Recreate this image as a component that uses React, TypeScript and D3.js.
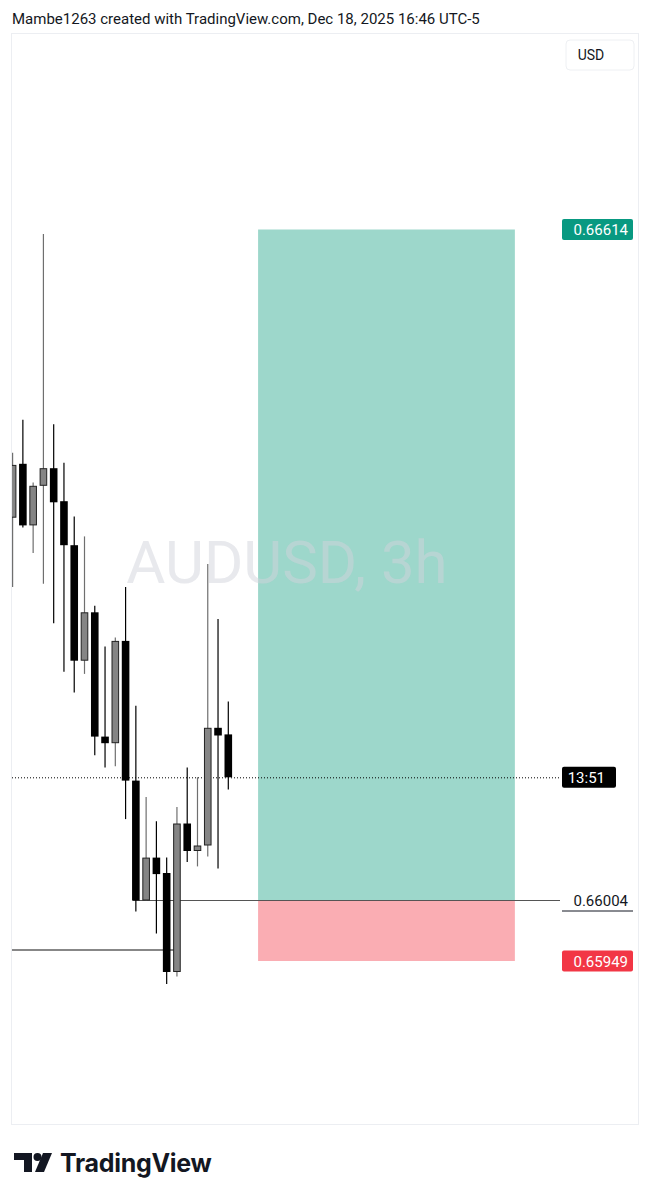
import React from "react";
import * as d3 from "d3";

const opens = [0.66352, 0.66401, 0.66345, 0.66381, 0.66397, 0.66367, 0.66327, 0.66222, 0.66266, 0.66153, 0.66147, 0.6624, 0.66113, 0.66004, 0.66043, 0.66029, 0.65939, 0.66074, 0.66049, 0.66054, 0.66161, 0.66155];
const highs = [0.66411, 0.66441, 0.66384, 0.6661, 0.66437, 0.66402, 0.66353, 0.66335, 0.66272, 0.66235, 0.66243, 0.66289, 0.66181, 0.66098, 0.66076, 0.66043, 0.66089, 0.66125, 0.66116, 0.6631, 0.6626, 0.66185];
const lows = [0.66289, 0.66343, 0.6632, 0.66292, 0.66256, 0.66212, 0.66193, 0.6621, 0.66136, 0.66125, 0.66126, 0.66078, 0.65994, 0.66004, 0.65974, 0.65928, 0.65935, 0.66039, 0.66035, 0.66044, 0.66033, 0.66105];
const closes = [0.664, 0.66345, 0.66381, 0.66397, 0.66366, 0.66327, 0.66222, 0.66266, 0.66153, 0.66147, 0.6624, 0.66113, 0.66004, 0.66043, 0.66028, 0.65939, 0.66074, 0.66049, 0.66054, 0.66161, 0.66154, 0.66116];

const targetPrice = 0.66614;
const entryPrice = 0.66004;
const stopPrice = 0.65949;
const supportPrice = 0.65959;
const countdownLabel = "13:51";
const symbolLabel = "AUDUSD, 3h";
const currencyLabel = "USD";
const headerLabel = "Mambe1263 created with TradingView.com, Dec 18, 2025 16:46 UTC-5";

export default function App() {
  const W = 651, H = 1200;
  const plotL = 12, plotR = 638, plotT = 34, plotB = 1124;
  const x = d3.scaleLinear().domain([0, 21]).range([12.6, 228.3]);
  const y = d3.scaleLinear().domain([stopPrice, targetPrice]).range([961, 229.5]);
  const bw = 7.6;
  const posStart = 23.9, posEnd = 48.9;
  const lastPrice = closes[closes.length - 1];
  const fmt = d3.format(".5f");
  const labelX = 562, labelW = 71, labelH = 21;
  const font = "Roboto, 'Noto Sans', sans-serif";

  const candles = opens.map((o, i) => {
    const c = closes[i];
    const up = c >= o;
    const cx = x(i);
    const top = y(Math.max(o, c));
    const bot = y(Math.min(o, c));
    return (
      <g key={i}>
        <line x1={cx} x2={cx} y1={y(highs[i])} y2={y(lows[i])} stroke={up ? "#6f6f6f" : "#000"} strokeWidth={1.2} />
        {up ? (
          <rect x={cx - bw / 2 + 0.5} y={top + 0.5} width={bw - 1} height={Math.max(1, bot - top - 1)} fill="#858585" stroke="#222" strokeWidth={1} />
        ) : (
          <rect x={cx - bw / 2} y={top} width={bw} height={Math.max(1, bot - top)} fill="#000" />
        )}
      </g>
    );
  });

  return (
    <svg width={W} height={H} style={{ position: "absolute", left: 0, top: 0, background: "#fff" }} fontFamily={font}>
      <rect x={0} y={0} width={W} height={H} fill="#fff" />
      <text x={12} y={24} fontSize={15} fill="#131722">{headerLabel}</text>
      <rect x={11.5} y={33.5} width={627} height={1091} fill="none" stroke="#eceef2" />
      <defs>
        <clipPath id="plot"><rect x={plotL} y={plotT} width={plotR - plotL} height={plotB - plotT} /></clipPath>
      </defs>
      <g clipPath="url(#plot)">
        <rect x={x(posStart)} y={y(targetPrice)} width={x(posEnd) - x(posStart)} height={y(entryPrice) - y(targetPrice)} fill="#9dd7cb" />
        <rect x={x(posStart)} y={y(entryPrice)} width={x(posEnd) - x(posStart)} height={y(stopPrice) - y(entryPrice)} fill="#faadb3" />
        <text x={287} y={583} fontSize={60} fill="#d1d4dc" fillOpacity={0.5} textAnchor="middle">{symbolLabel}</text>
        <line x1={plotL} x2={560} y1={y(lastPrice) + 0.5} y2={y(lastPrice) + 0.5} stroke="#000" strokeWidth={1} strokeDasharray="1,2" />
        <line x1={x(11.7)} x2={560} y1={y(entryPrice)} y2={y(entryPrice)} stroke="#555" strokeWidth={1.2} />
        <line x1={plotL} x2={x(15.8)} y1={y(supportPrice)} y2={y(supportPrice)} stroke="#111" strokeWidth={1.2} />
        {candles}
      </g>
      <g>
        <rect x={566} y={40} width={68} height={30} rx={4} fill="#fff" stroke="#eef0f3" />
        <text x={591} y={60} fontSize={14} fill="#131722" textAnchor="middle">{currencyLabel}</text>
      </g>
      <g>
        <rect x={labelX} y={y(targetPrice) - labelH / 2} width={labelW} height={labelH} rx={2} fill="#089981" />
        <text x={labelX + labelW - 5} y={y(targetPrice) + 5.5} fontSize={15} fill="#fff" textAnchor="end">{fmt(targetPrice)}</text>
        <rect x={labelX} y={y(lastPrice) - labelH / 2} width={54} height={labelH} rx={2} fill="#000" />
        <text x={labelX + 43} y={y(lastPrice) + 5.5} fontSize={15} fill="#fff" textAnchor="end">{countdownLabel}</text>
        <text x={labelX + labelW - 5} y={y(entryPrice) + 5.5} fontSize={15} fill="#131722" textAnchor="end">{fmt(entryPrice)}</text>
        <line x1={labelX} x2={labelX + labelW} y1={y(entryPrice) + 10.5} y2={y(entryPrice) + 10.5} stroke="#131722" strokeWidth={1} />
        <rect x={labelX} y={y(stopPrice) - labelH / 2} width={labelW} height={labelH} rx={2} fill="#f23645" />
        <text x={labelX + labelW - 5} y={y(stopPrice) + 5.5} fontSize={15} fill="#fff" textAnchor="end">{fmt(stopPrice)}</text>
      </g>
      <g fill="#131722">
        <path d="M14,1153 H32 V1172 H24 V1160 H14 Z" />
        <circle cx={37.5} cy={1157} r={4} />
        <path d="M43,1153 H52 L44,1172 H35 Z" />
        <text x={60} y={1172} fontSize={25} fontWeight={700} fontFamily="Inter, Roboto, sans-serif" letterSpacing={-0.3}>TradingView</text>
      </g>
    </svg>
  );
}
